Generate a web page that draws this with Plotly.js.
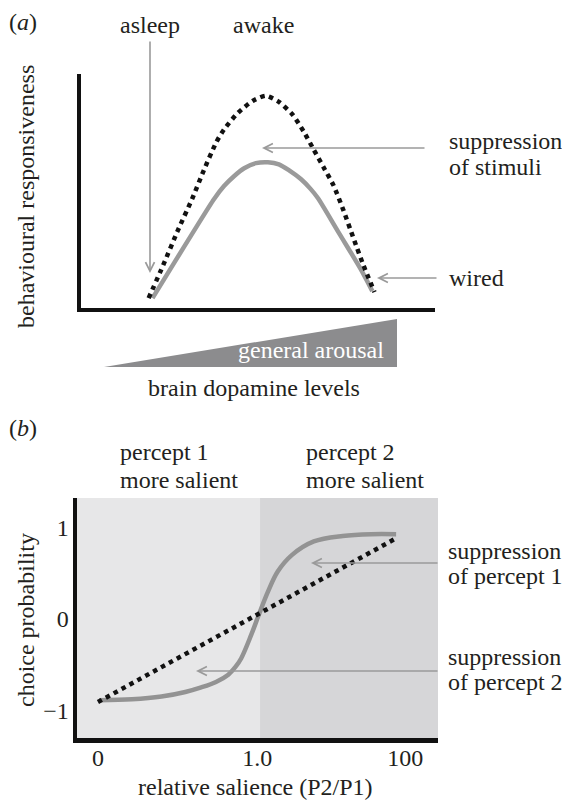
<!DOCTYPE html>
<html>
<head>
<meta charset="utf-8">
<script src="https://cdn.plot.ly/plotly-3.0.1.min.js"></script>
<style>html,body{margin:0;padding:0;background:#fff;}#chart{width:562px;height:803px;}</style>
</head>
<body>
<div id="chart"></div>
<script>
// ---------- Panel (a): behavioural responsiveness vs brain dopamine levels ----------
const dopamineDotted = [19.1, 23.3, 27.2, 31.5, 34.6, 38.2, 40.4, 44.4, 48.6, 52.2, 55.9, 59.8, 62.9, 65.7, 68.5, 71.3, 74.2, 77.0, 79.8, 82.9];
const responseDotted = [4.2, 18.6, 32.6, 47.0, 58.5, 70.8, 76.3, 83.5, 88.6, 90.7, 88.1, 82.6, 75.4, 67.8, 60.2, 52.5, 41.5, 29.7, 18.2, 6.8];
const dopamineSolid = [20.2, 26.4, 32.3, 37.6, 40.4, 43.3, 46.1, 49.4, 52.8, 55.9, 58.7, 62.1, 64.9, 66.9, 72.8, 78.9, 82.3];
const responseSolid = [4.2, 19.5, 33.9, 46.6, 52.1, 56.4, 59.7, 61.9, 62.3, 61.4, 58.9, 55.1, 50.8, 47.0, 32.2, 16.9, 7.2];

// ---------- Panel (b): choice probability vs relative salience ----------
const salienceSolid = [6.1, 15.2, 23.4, 30.0, 34.4, 38.5, 41.9, 44.0, 45.5, 48.2, 50.4, 52.9, 55.6, 59.5, 65.6, 73.6, 81.5, 88.4];
const choiceSolid = [-0.89, -0.88, -0.85, -0.80, -0.75, -0.69, -0.61, -0.52, -0.43, -0.18, 0.05, 0.30, 0.52, 0.70, 0.85, 0.91, 0.93, 0.93];
const salienceDotted = [5.8, 88.2];
const choiceDotted = [-0.91, 0.88];
const salienceTickVals = [5.8, 49.9, 90.9];
const salienceTickText = ['0', '1.0', '100'];
const choiceTickVals = [-1, 0, 1];
const choiceTickText = ['\u22121', '0', '1'];
const salienceSplit = 50.7;

// ---------- layout helpers (pixel positions on a 562x803 page) ----------
const W = 562, H = 803;
const FONT = 'Liberation Serif, Times New Roman, serif';
const INK = '#231f20';
const FS = 24;
const px = v => v / W;
const py = v => 1 - v / H;

function txt(text, x, y, xanchor, extra) {
  return Object.assign({
    xref: 'paper', yref: 'paper', x: px(x), y: py(y), text: text,
    showarrow: false, xanchor: xanchor || 'center', yanchor: 'middle',
    font: {family: FONT, size: FS, color: INK}
  }, extra || {});
}
function arrow(tx, ty, hx, hy) {
  return {
    xref: 'paper', yref: 'paper', x: px(hx), y: py(hy),
    ax: tx - hx, ay: ty - hy, axref: 'pixel', ayref: 'pixel',
    text: '', showarrow: true, arrowhead: 5, arrowsize: 1.1,
    arrowwidth: 1.6, arrowcolor: '#9a9a9a'
  };
}

const traces = [
  {x: dopamineSolid, y: responseSolid, xaxis: 'x', yaxis: 'y', mode: 'lines',
   line: {color: '#9a9a9a', width: 4.5, shape: 'spline', smoothing: 0.8}, hoverinfo: 'skip'},
  {x: dopamineDotted, y: responseDotted, xaxis: 'x', yaxis: 'y', mode: 'lines',
   line: {color: '#111', width: 4.5, dash: 'dot', shape: 'spline', smoothing: 0.6}, hoverinfo: 'skip'},
  {x: salienceSolid, y: choiceSolid, xaxis: 'x2', yaxis: 'y2', mode: 'lines',
   line: {color: '#939393', width: 4.5, shape: 'spline', smoothing: 1}, hoverinfo: 'skip'},
  {x: salienceDotted, y: choiceDotted, xaxis: 'x2', yaxis: 'y2', mode: 'lines',
   line: {color: '#111', width: 4.5, dash: 'dot'}, hoverinfo: 'skip'}
];

const axBase = {showgrid: false, zeroline: false, showline: true, linecolor: '#111', fixedrange: true};

const layout = {
  width: W, height: H, margin: {l: 0, r: 0, t: 0, b: 0},
  paper_bgcolor: '#fff', plot_bgcolor: 'rgba(0,0,0,0)', showlegend: false,
  xaxis: Object.assign({}, axBase, {domain: [px(81), px(435)], range: [0, 100], anchor: 'y',
    linewidth: 4, showticklabels: false, ticks: ''}),
  yaxis: Object.assign({}, axBase, {domain: [py(308), py(74)], range: [0, 100], anchor: 'x',
    linewidth: 4, showticklabels: false, ticks: ''}),
  xaxis2: Object.assign({}, axBase, {domain: [px(77), px(438)], range: [0, 100], anchor: 'y2',
    linewidth: 4.5, ticks: '', tickvals: salienceTickVals, ticktext: salienceTickText,
    tickfont: {family: FONT, size: FS, color: INK}, ticklabelstandoff: -5}),
  yaxis2: Object.assign({}, axBase, {domain: [py(738), py(498)], range: [-1.304, 1.326], anchor: 'x2',
    linewidth: 4.5, ticks: '', tickvals: choiceTickVals, ticktext: choiceTickText,
    tickfont: {family: FONT, size: FS, color: INK}, ticklabelstandoff: -1}),
  shapes: [
    {type: 'rect', xref: 'x2', yref: 'y2 domain', x0: 0, x1: salienceSplit, y0: 0, y1: 1,
     fillcolor: '#e7e7e8', line: {width: 0}, layer: 'below'},
    {type: 'rect', xref: 'x2', yref: 'y2 domain', x0: salienceSplit, x1: 100, y0: 0, y1: 1,
     fillcolor: '#d6d6d8', line: {width: 0}, layer: 'below'},
    {type: 'path', xref: 'paper', yref: 'paper',
     path: 'M ' + px(104) + ' ' + py(367) + ' L ' + px(397) + ' ' + py(319) + ' L ' + px(397) + ' ' + py(367) + ' Z',
     fillcolor: '#8c8c8e', line: {width: 0}, layer: 'below'}
  ],
  annotations: [
    txt('(<i>a</i>)', 23, 22),
    txt('asleep', 150, 25),
    txt('awake', 263, 25),
    txt('suppression', 447, 141, 'left'),
    txt('of stimuli', 447, 167, 'left'),
    txt('wired', 447, 278, 'left'),
    txt('general arousal', 386, 350, 'right', {font: {family: FONT, size: FS, color: '#ffffff'}}),
    txt('brain dopamine levels', 254, 388),
    txt('behavioural responsiveness', 26, 197, 'center', {textangle: -90, xanchor: 'center'}),
    arrow(150, 40, 150, 273),
    arrow(426, 148, 262, 148),
    arrow(438, 278, 377, 278),

    txt('(<i>b</i>)', 23, 428),
    txt('percept 1', 118, 452, 'left'),
    txt('more salient', 118, 480, 'left'),
    txt('percept 2', 304, 452, 'left'),
    txt('more salient', 304, 480, 'left'),
    txt('suppression', 446, 551, 'left'),
    txt('of percept 1', 446, 576, 'left'),
    txt('suppression', 446, 657, 'left'),
    txt('of percept 2', 446, 682, 'left'),
    txt('choice probability', 26, 620, 'center', {textangle: -90}),
    txt('relative salience (P2/P1)', 255, 802, 'center', {yanchor: 'bottom'}),
    arrow(439, 563, 311, 563),
    arrow(439, 671, 196, 671)
  ]
};

Plotly.newPlot('chart', traces, layout, {staticPlot: true, displayModeBar: false});
</script>
</body>
</html>
